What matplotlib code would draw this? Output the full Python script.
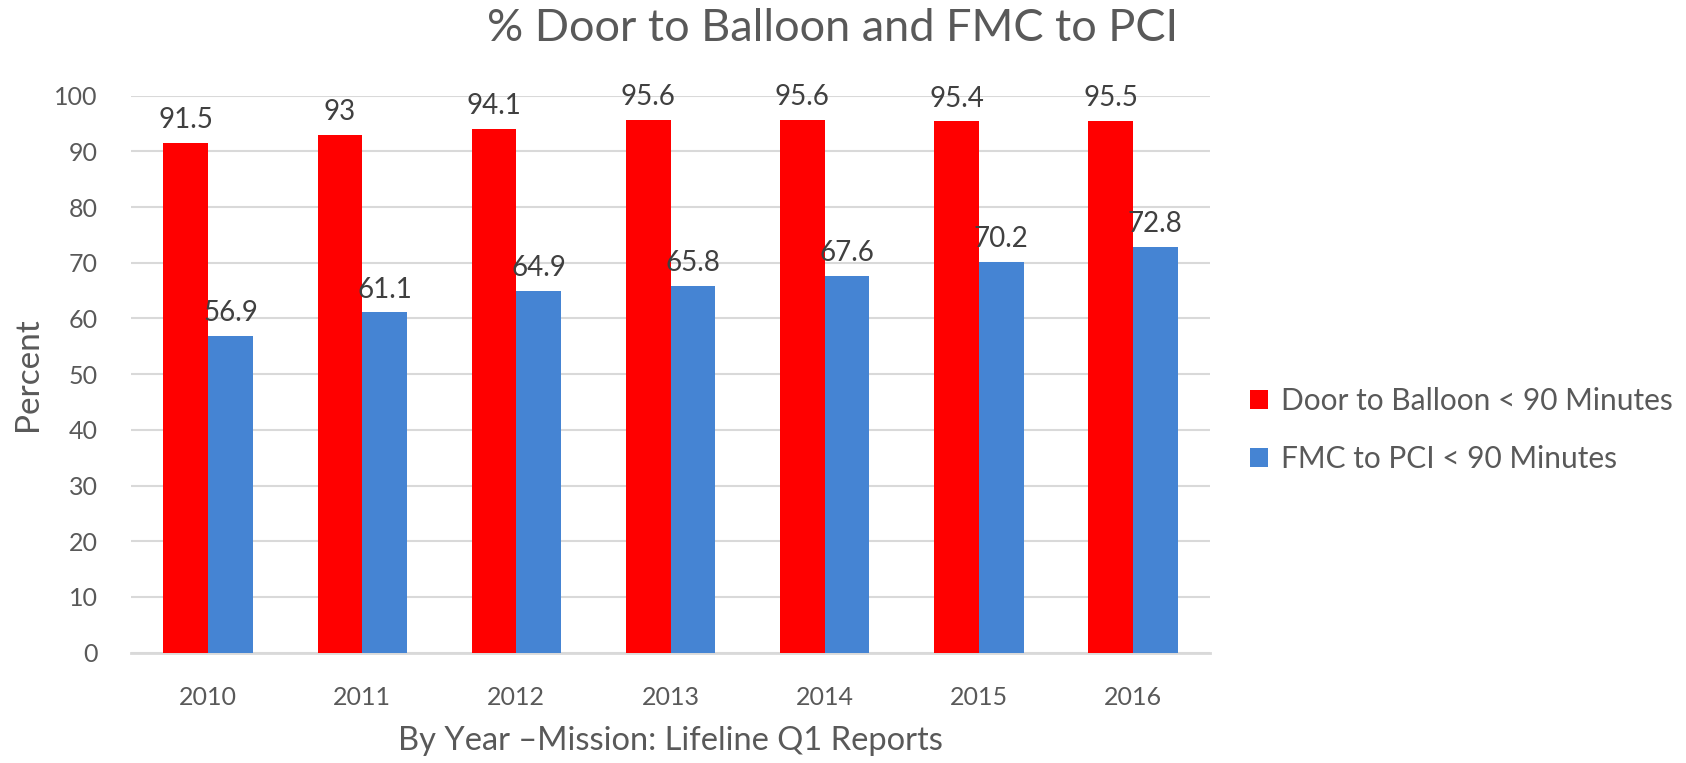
import numpy as np
import matplotlib.pyplot as plt

plt.rcParams['font.family'] = ['Lato', 'DejaVu Sans']

# data
years = ['2010', '2011', '2012', '2013', '2014', '2015', '2016']
door_to_balloon = [91.5, 93, 94.1, 95.6, 95.6, 95.4, 95.5]
fmc_to_pci = [56.9, 61.1, 64.9, 65.8, 67.6, 70.2, 72.8]

text_col = '#595959'
red = '#ff0000'
blue = '#4584d3'

fig = plt.figure(figsize=(16.86, 7.63), dpi=100)
ax = fig.add_axes([0.0777, 0.1446, 0.64, 0.73])

x = np.arange(len(years))
w = 0.29
b1 = ax.bar(x - w / 2, door_to_balloon, w, color=red, label='Door to Balloon < 90 Minutes', zorder=3)
b2 = ax.bar(x + w / 2, fmc_to_pci, w, color=blue, label='FMC to PCI < 90 Minutes', zorder=3)

for bars in (b1, b2):
    for r in bars:
        v = r.get_height()
        ax.annotate(f'{v:g}', (r.get_x() + r.get_width() / 2, v), xytext=(0, 7),
                    textcoords='offset points', ha='center', va='bottom',
                    fontsize=20, color='#404040', clip_on=False, zorder=4)

ax.set_xlim(-0.5, 6.5)
ax.set_ylim(0, 100)
ax.set_yticks(range(0, 101, 10))
ax.set_xticks(x)
ax.set_xticklabels(years)
ax.yaxis.grid(True, color='#d9d9d9', linewidth=1.5, zorder=0)
for s in ('top', 'right', 'left'):
    ax.spines[s].set_visible(False)
ax.spines['bottom'].set_color('#d9d9d9')
ax.spines['bottom'].set_linewidth(2)
ax.tick_params(axis='both', length=0, labelsize=18, colors=text_col)
ax.tick_params(axis='x', pad=24)
ax.tick_params(axis='y', pad=24)

ax.set_ylabel('Percent', fontsize=24, color=text_col, labelpad=8)
ax.set_xlabel('By Year \u2013Mission: Lifeline Q1 Reports', fontsize=23.5, color=text_col, labelpad=12)
fig.suptitle('% Door to Balloon and FMC to PCI', fontsize=32.5, color=text_col, x=0.494, y=0.99)

ax.legend(loc='center left', bbox_to_anchor=(1.012, 0.4), frameon=False, fontsize=21.5,
          labelcolor=text_col, handlelength=0.6, handleheight=0.6, handletextpad=0.45,
          labelspacing=1.0)

fig.savefig('out.png', dpi=100)
